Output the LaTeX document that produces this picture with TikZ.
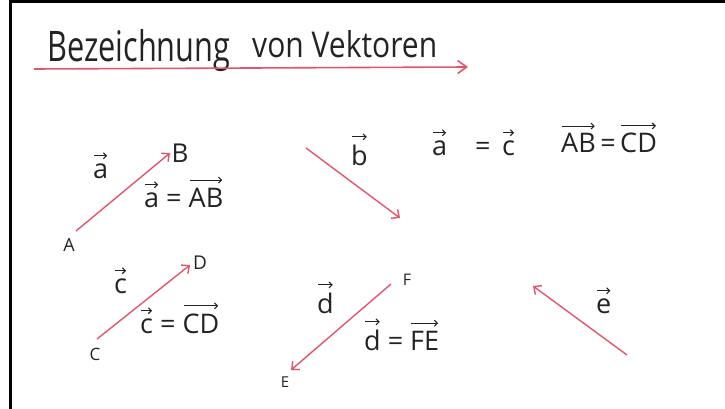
\documentclass[tikz,border=0pt]{standalone}
\usepackage{fix-cm}
\usepackage{fontspec}
\setmainfont{Open Sans}
\usetikzlibrary{arrows.meta}
\definecolor{penred}{RGB}{226,86,108}
\definecolor{ink}{RGB}{35,35,35}
\newsavebox\vvbox
\newlength\vvwd
\newcommand\vv[1]{\sbox\vvbox{#1}\setlength\vvwd{\wd\vvbox}\leavevmode\vbox{\offinterlineskip\halign{\hfil##\hfil\cr
  \tikz\draw[ink, line width=1.1pt, -{Straight Barb[length=3pt,width=6pt,line width=1.1pt]}] (0pt,0pt) -- (\vvwd-2pt,0pt);\cr\noalign{\kern4pt}\usebox\vvbox\cr}}}
\tikzset{
  vec/.style={draw=penred, line width=1.4pt, -{Straight Barb[length=6pt,width=11pt,line width=1.4pt]}},
  eqtext/.style={anchor=base west, inner sep=0pt, text=ink, font=\fontsize{27}{27}\selectfont},
  ptlabel/.style={inner sep=0pt, text=ink},
  frameline/.style={line width=3pt, black}
}
\begin{document}
\begin{tikzpicture}[x=1pt,y=-1pt]
\useasboundingbox (0,0) rectangle (725,409);
% frame
\coordinate (fTL) at (10,2);
\coordinate (fTR) at (725,2);
\coordinate (fBL) at (10,409);
\draw[frameline] (fBL) -- (fTL) -- (fTR);

% title
\node[anchor=base west, inner sep=0pt, text=ink] (t1) at (47,62) {\resizebox{183pt}{32pt}{Bezeichnung}};
\node[anchor=base west, inner sep=0pt, text=ink] (t2) at (252,58) {\resizebox{185pt}{27pt}{von Vektoren}};
\coordinate (uS) at (34,69);
\coordinate (uE) at (468,67);
\draw[draw=penred, line width=1.6pt, -{Straight Barb[length=9pt,width=13pt,line width=1.6pt]}] (uS) -- (uE);

% vector a
\coordinate (aS) at (76,231);
\coordinate (aE) at (170,153);
\draw[vec] (aS) -- (aE);
\node[ptlabel, font=\fontsize{18}{18}\selectfont] (A) at (69,245) {A};
\node[ptlabel, font=\fontsize{26}{26}\selectfont] (B) at (180,153) {B};
\node[eqtext] (la) at (93,178) {\vv{a}};
\node[eqtext] (eqa) at (144,207) {\vv{a} = \vv{AB}};

% vector b
\coordinate (bS) at (306,148);
\coordinate (bE) at (400,218);
\draw[vec] (bS) -- (bE);
\node[eqtext] (lb) at (351,165) {\vv{b}};

% a = c, AB = CD
\node[eqtext] (eqac1) at (432,155) {\vv{a}};
\node[eqtext] (eqac2) at (475,155) {=};
\node[eqtext] (eqac3) at (502,155) {\vv{c}};
\node[eqtext] (eqab) at (561,153) {\vv{AB}\,=\,\vv{CD}};

% vector c
\coordinate (cS) at (97,339);
\coordinate (cE) at (190,265);
\draw[vec] (cS) -- (cE);
\node[ptlabel, font=\fontsize{17}{17}\selectfont] (C) at (95,354) {C};
\node[ptlabel, font=\fontsize{19}{19}\selectfont] (D) at (200,263) {D};
\node[eqtext] (lc) at (114,293) {\vv{c}};
\node[eqtext] (eqc) at (140,333) {\vv{c} = \vv{CD}};

% vector d
\coordinate (dS) at (391,284);
\coordinate (dE) at (291,370);
\draw[vec] (dS) -- (dE);
\node[ptlabel, font=\fontsize{16}{16}\selectfont] (F) at (407,280) {F};
\node[ptlabel, font=\fontsize{15}{15}\selectfont] (E) at (285,382) {E};
\node[eqtext] (ld) at (317,313) {\vv{d}};
\node[eqtext] (eqd) at (364,350) {\vv{d} = \vv{FE}};

% vector e
\coordinate (eS) at (627,355);
\coordinate (eE) at (533,286);
\draw[vec] (eS) -- (eE);
\node[eqtext] (le) at (596,313) {\vv{e}};
\end{tikzpicture}
\end{document}
